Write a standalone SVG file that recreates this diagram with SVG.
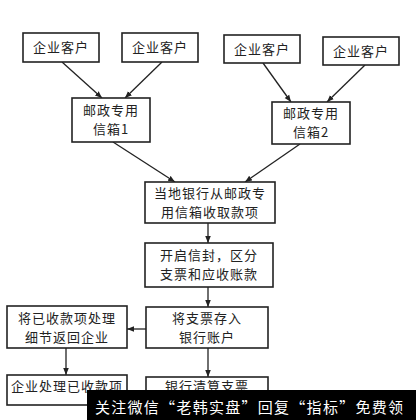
<svg xmlns="http://www.w3.org/2000/svg" width="416" height="420" viewBox="0 0 416 420">
<style>
.box{fill:#fff;stroke:#222;stroke-width:1.6}
.t{font-family:"Noto Sans CJK SC","Noto Sans CJK JP",sans-serif;font-size:13px;letter-spacing:1px;fill:#222;text-anchor:middle}
.c{stroke:#222;stroke-width:1.3;fill:none;marker-end:url(#ah)}
.wm{font-family:"Noto Sans CJK SC",sans-serif;font-size:15px;fill:#fff}
</style>
<defs>
<marker id="ah" viewBox="0 0 10 10" refX="10" refY="5" markerWidth="7" markerHeight="7" markerUnits="userSpaceOnUse" orient="auto">
<path d="M0,1 L10,5 L0,9 z" fill="#222"/>
</marker>
</defs>
<rect width="416" height="420" fill="#fff"/>
<g id="connectors">
<line class="c" x1="62" y1="62" x2="102" y2="98"/>
<line class="c" x1="162" y1="62" x2="125" y2="98"/>
<line class="c" x1="263" y1="63" x2="291" y2="102"/>
<line class="c" x1="365" y1="65" x2="327" y2="102"/>
<line class="c" x1="113" y1="142" x2="175" y2="182"/>
<line class="c" x1="300" y1="144" x2="245" y2="182"/>
<line class="c" x1="208" y1="223" x2="208" y2="243"/>
<line class="c" x1="208" y1="287" x2="208" y2="307"/>
<line class="c" x1="146" y1="329" x2="127" y2="329"/>
<line class="c" x1="66" y1="348" x2="66" y2="375"/>
<line class="c" x1="208" y1="348" x2="208" y2="377"/>
</g>
<g id="client1"><rect class="box" x="23" y="33" width="76" height="29"/><text class="t" x="61" y="52">企业客户</text></g>
<g id="client2"><rect class="box" x="122" y="33" width="76" height="29"/><text class="t" x="160" y="52">企业客户</text></g>
<g id="client3"><rect class="box" x="224" y="35" width="76" height="28"/><text class="t" x="262" y="54">企业客户</text></g>
<g id="client4"><rect class="box" x="323" y="37" width="76" height="28"/><text class="t" x="361" y="56">企业客户</text></g>
<g id="mailbox1"><rect class="box" x="72" y="98" width="78" height="44"/><text class="t" x="111" y="115">邮政专用</text><text class="t" x="111" y="134">信箱1</text></g>
<g id="mailbox2"><rect class="box" x="272" y="102" width="78" height="42"/><text class="t" x="311" y="118">邮政专用</text><text class="t" x="311" y="137">信箱2</text></g>
<g id="bank"><rect class="box" x="145" y="182" width="130" height="41"/><text class="t" x="210" y="198">当地银行从邮政专</text><text class="t" x="210" y="217">用信箱收取款项</text></g>
<g id="open"><rect class="box" x="145" y="243" width="128" height="44"/><text class="t" x="209" y="260">开启信封，区分</text><text class="t" x="209" y="279">支票和应收账款</text></g>
<g id="deposit"><rect class="box" x="146" y="307" width="122" height="41"/><text class="t" x="207" y="323">将支票存入</text><text class="t" x="207" y="342">银行账户</text></g>
<g id="return"><rect class="box" x="7" y="306" width="120" height="42"/><text class="t" x="67" y="323">将已收款项处理</text><text class="t" x="67" y="342">细节返回企业</text></g>
<g id="process"><rect class="box" x="7" y="375" width="120" height="30"/><text class="t" x="67" y="391">企业处理已收款项</text></g>
<g id="clear"><rect class="box" x="146" y="377" width="122" height="36"/><text class="t" x="207" y="391">银行清算支票</text></g>
<g id="watermark"><rect x="87" y="390" width="329" height="30" fill="#000"/><text class="wm" x="95" y="413" textLength="308">关注微信“老韩实盘”回复“指标”免费领</text></g>
</svg>
